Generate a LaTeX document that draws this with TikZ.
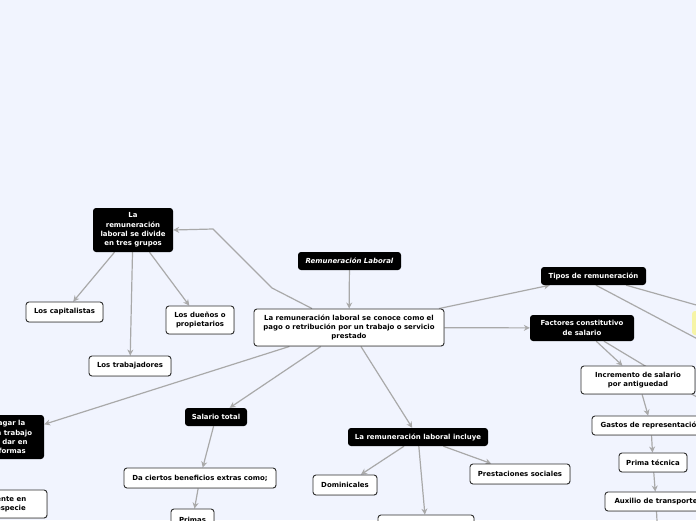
\documentclass[tikz,border=0pt]{standalone}
\usepackage{fontspec}
\setmainfont{DejaVu Sans}
\usetikzlibrary{arrows.meta,backgrounds,shadows}
\definecolor{Fondo}{HTML}{F1F4FE}
\definecolor{Linea}{HTML}{A9A9A9}
\definecolor{Borde}{HTML}{2E2E2E}
\definecolor{Amarillo}{HTML}{F6F4A6}

\tikzset{
  negro/.style={fill=black,text=white,rounded corners=3pt,align=center,inner sep=1pt},
  blanco/.style={fill=white,draw=Borde,line width=.9pt,rounded corners=3pt,align=center,inner sep=1pt,
    drop shadow={shadow xshift=.6pt,shadow yshift=-.6pt,opacity=.35}},
  conn/.style={draw=Linea,line width=1.2pt,-{Stealth[length=6pt,width=6pt]}},
  rama/.style={draw=Linea,line width=1.2pt},
}

\begin{document}
\begin{tikzpicture}[x=1pt,y=-1pt,font=\fontsize{6.95}{9.2}\selectfont\bfseries]
        \useasboundingbox (0,0) rectangle (696,520);
        \clip (0,0) rectangle (696,520);
        % centro
        \node[negro,minimum width=103pt,minimum height=18pt] (rl) at (349.5,261) {\itshape Remuneración Laboral};
        \node[blanco,minimum width=190pt,minimum height=37pt] (main) at (349,327.5) {La remuneración laboral se conoce como el\\pago o retribución por un trabajo o servicio\\prestado};
        % grupos
        \node[negro,minimum width=80pt,minimum height=44pt] (grupos) at (133,230) {La\\remuneración\\laboral se divide\\en tres grupos};
        \node[blanco,minimum width=77pt,minimum height=20pt] (capit) at (64.5,312) {Los capitalistas};
        \node[blanco,minimum width=82pt,minimum height=20pt] (trab) at (130,366) {Los trabajadores};
        \node[blanco,minimum width=68pt,minimum height=28pt] (duenos) at (200,320) {Los dueños o\\propietarios};
        % derecha
        \node[negro,minimum width=105pt,minimum height=18pt] (tipos) at (593.5,276) {Tipos de remuneración};
        \node[fill=Amarillo,rounded corners=3pt,minimum width=136pt,minimum height=24pt] (amarillo) at (760,323) {};
        \node[negro,minimum width=104pt,minimum height=26pt] (factores) at (582,328) {Factores constitutivo\\de salario};
        \node[blanco,minimum width=114pt,minimum height=28pt] (incremento) at (638,380) {Incremento de salario\\por antiguedad};
        \node[blanco,minimum width=118pt,minimum height=19pt] (gastos) at (651,425.5) {Gastos de representación};
        \node[blanco,minimum width=68pt,minimum height=19pt] (prima) at (653,462.5) {Prima técnica};
        \node[blanco,minimum width=102pt,minimum height=19pt] (auxilio) at (656,501.5) {Auxilio de transporte};
        \coordinate (tiposext) at (760,372);
        \coordinate (factext) at (760,435);
        \coordinate (auxext) at (659,560);
        % izquierda y abajo
        \node[negro,minimum width=80pt,minimum height=44pt] (formas) at (4,437) {Al pagar la\\por un trabajo\\debe dar en\\dos formas};
        \node[blanco,minimum width=107pt,minimum height=28pt] (especie) at (-6.5,504) {Directamente en\\dinero o especie};
        \node[negro,minimum width=62pt,minimum height=18pt] (salario) at (216,417) {Salario total};
        \node[blanco,minimum width=152pt,minimum height=20pt] (beneficios) at (200,478) {Da ciertos beneficios extras como;};
        \node[blanco,minimum width=43pt,minimum height=22pt] (primas) at (192.5,520) {Primas};
        \node[negro,minimum width=140pt,minimum height=18pt] (incluye) at (418,437) {La remuneración laboral incluye};
        \node[blanco,minimum width=64pt,minimum height=20pt] (domin) at (345,485) {Dominicales};
        \node[blanco,minimum width=100pt,minimum height=20pt] (prestac) at (520,474) {Prestaciones sociales};
        \node[blanco,minimum width=96pt,minimum height=24pt] (inferior) at (426,527) {};
        \begin{pgfonlayer}{background}
          \fill[Fondo] (0,0) rectangle (696,520);
          \draw[conn] (rl)--(main);
          \draw[conn] ([xshift=-37pt]main.north)--(272,288)--(213,229)--(grupos.east);
          \draw[conn] (grupos)--(capit);\draw[conn] (grupos)--(trab);\draw[conn] (grupos)--(duenos);
          \draw[conn] (main)--(tipos);\draw[conn] (main)--(factores);
          \draw[rama] (tipos)--(amarillo);\draw[rama] (tipos.285)--(tiposext);
          \draw[conn] (factores)--(incremento);\draw[rama] (factores)--(factext);
          \draw[conn] (incremento)--(gastos);\draw[conn] (gastos)--(prima);
          \draw[conn] (prima)--(auxilio);\draw[rama] (auxilio)--(auxext);
          \draw[conn] (main)--(formas);
          \draw[conn] (main)--(salario);\draw[conn] (salario)--(beneficios);\draw[conn] (beneficios)--(primas);
          \draw[conn] (main)--(incluye);
          \draw[conn] (incluye)--(domin);\draw[conn] (incluye)--(inferior);\draw[conn] (incluye)--(prestac);
        \end{pgfonlayer}
      \end{tikzpicture}
\end{document}
